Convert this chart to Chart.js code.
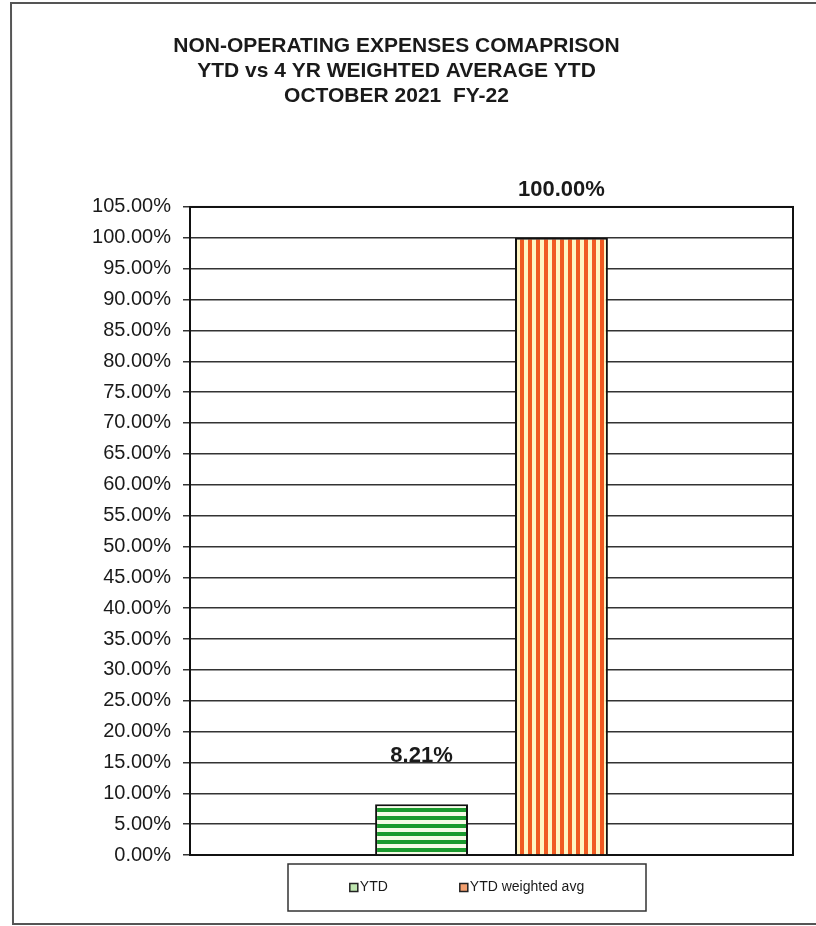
<!DOCTYPE html>
<html>
<head>
<meta charset="utf-8">
<script src="https://cdn.jsdelivr.net/npm/chart.js@4.4.0/dist/chart.umd.min.js"></script>
<style>
  body { margin: 0; background: #fff; }
  canvas { display: block; }
</style>
</head>
<body>
<canvas id="chart" width="816" height="926"></canvas>
<script>
// chart data
const categories = [""];
const seriesNames = ["YTD", "YTD weighted avg"];
const ytdValues = [8.21];
const weightedAvgValues = [100];
const titleLines = [
  "NON-OPERATING EXPENSES COMAPRISON",
  "YTD vs 4 YR WEIGHTED AVERAGE YTD",
  "OCTOBER 2021  FY-22",
];
const yMax = 105;
const yStep = 5;

// striped fills like the excel patterns
function makeStripes(main, gap, vertical) {
  const c = document.createElement("canvas");
  c.width = 8;
  c.height = 8;
  const g = c.getContext("2d");
  g.fillStyle = gap;
  g.fillRect(0, 0, 8, 8);
  g.fillStyle = main;
  if (vertical) g.fillRect(0, 0, 4, 8);
  else g.fillRect(0, 0, 8, 4);
  return g.createPattern(c, "repeat");
}

const ctx = document.getElementById("chart").getContext("2d");
const greenFill = makeStripes("#1b9a2e", "#f6fbe6", false);
const orangeFill = makeStripes("#f05a22", "#fff4c2", true);

// page frame + plot frame
const framePlugin = {
  id: "frame",
  beforeDraw(chart) {
    const c = chart.ctx;
    c.save();
    c.fillStyle = "#fff";
    c.fillRect(0, 0, chart.width, chart.height);
    c.strokeStyle = "#555";
    c.lineWidth = 2;
    c.beginPath();
    c.moveTo(chart.width, 3);
    c.lineTo(11, 3);
    c.lineTo(13, 924);
    c.lineTo(chart.width, 924);
    c.stroke();
    c.restore();
  },
  beforeDatasetsDraw(chart) {
    const a = chart.chartArea;
    const c = chart.ctx;
    c.save();
    c.strokeStyle = "#111";
    c.lineWidth = 2;
    c.strokeRect(a.left, a.top, a.right - a.left, a.bottom - a.top);
    c.restore();
  },
};

// value labels above the bars
const valueLabels = {
  id: "valueLabels",
  afterDatasetsDraw(chart) {
    const c = chart.ctx;
    c.save();
    c.font = "bold 22px 'Liberation Sans', Arial, sans-serif";
    c.fillStyle = "#1a1a1a";
    c.textAlign = "center";
    c.textBaseline = "middle";
    chart.data.datasets.forEach((ds, i) => {
      chart.getDatasetMeta(i).data.forEach((bar, j) => {
        c.fillText(ds.data[j].toFixed(2) + "%", bar.x, bar.y - 48);
      });
    });
    c.restore();
  },
};

// boxed legend under the plot
const boxedLegend = {
  id: "boxedLegend",
  afterDraw(chart) {
    const c = chart.ctx;
    const box = { left: 288, top: 864, right: 646, bottom: 911 };
    c.save();
    c.strokeStyle = "#333";
    c.lineWidth = 1.5;
    c.strokeRect(box.left, box.top, box.right - box.left, box.bottom - box.top);
    c.font = "14px 'Liberation Sans', Arial, sans-serif";
    c.textBaseline = "middle";
    const gap = 72;
    const items = chart.data.datasets.map((ds) => ({
      text: ds.label,
      color: ds.legendColor,
      w: 10 + c.measureText(ds.label).width,
    }));
    const total = items.reduce((s, it) => s + it.w, 0) + gap * (items.length - 1);
    let x = (box.left + box.right) / 2 - total / 2;
    const y = (box.top + box.bottom) / 2;
    items.forEach((it) => {
      c.fillStyle = it.color;
      c.fillRect(x, y - 4, 8, 8);
      c.strokeStyle = "#222";
      c.lineWidth = 1.5;
      c.strokeRect(x, y - 4, 8, 8);
      c.fillStyle = "#1a1a1a";
      c.fillText(it.text, x + 10, y);
      x += it.w + gap;
    });
    c.restore();
  },
};

new Chart(ctx, {
  type: "bar",
  data: {
    labels: categories,
    datasets: [
      {
        label: seriesNames[0],
        data: ytdValues,
        backgroundColor: greenFill,
        legendColor: "#bfe6b0",
        borderColor: "#111",
        borderWidth: 2,
      },
      {
        label: seriesNames[1],
        data: weightedAvgValues,
        backgroundColor: orangeFill,
        legendColor: "#f3a070",
        borderColor: "#111",
        borderWidth: 2,
      },
    ],
  },
  options: {
    responsive: false,
    animation: false,
    categoryPercentage: 0.464,
    barPercentage: 0.664,
    layout: { padding: { left: 0, right: 23, top: 0, bottom: 71 } },
    plugins: {
      legend: { display: false },
      tooltip: { enabled: false },
      title: {
        display: true,
        text: titleLines,
        color: "#1a1a1a",
        font: { family: "'Liberation Sans', Arial, sans-serif", size: 21, weight: "bold", lineHeight: 1.19 },
        padding: { top: 34, bottom: 98 },
      },
    },
    scales: {
      x: { display: false },
      y: {
        min: 0,
        max: yMax,
        afterFit(scale) {
          scale.width = 190;
        },
        border: { display: false },
        grid: { color: "#333", lineWidth: 1.5, drawTicks: true, tickLength: 7 },
        ticks: {
          stepSize: yStep,
          padding: 12,
          color: "#1a1a1a",
          font: { family: "'Liberation Sans', Arial, sans-serif", size: 20 },
          callback: (v) => v.toFixed(2) + "%",
        },
      },
    },
  },
  plugins: [framePlugin, valueLabels, boxedLegend],
});
</script>
</body>
</html>
